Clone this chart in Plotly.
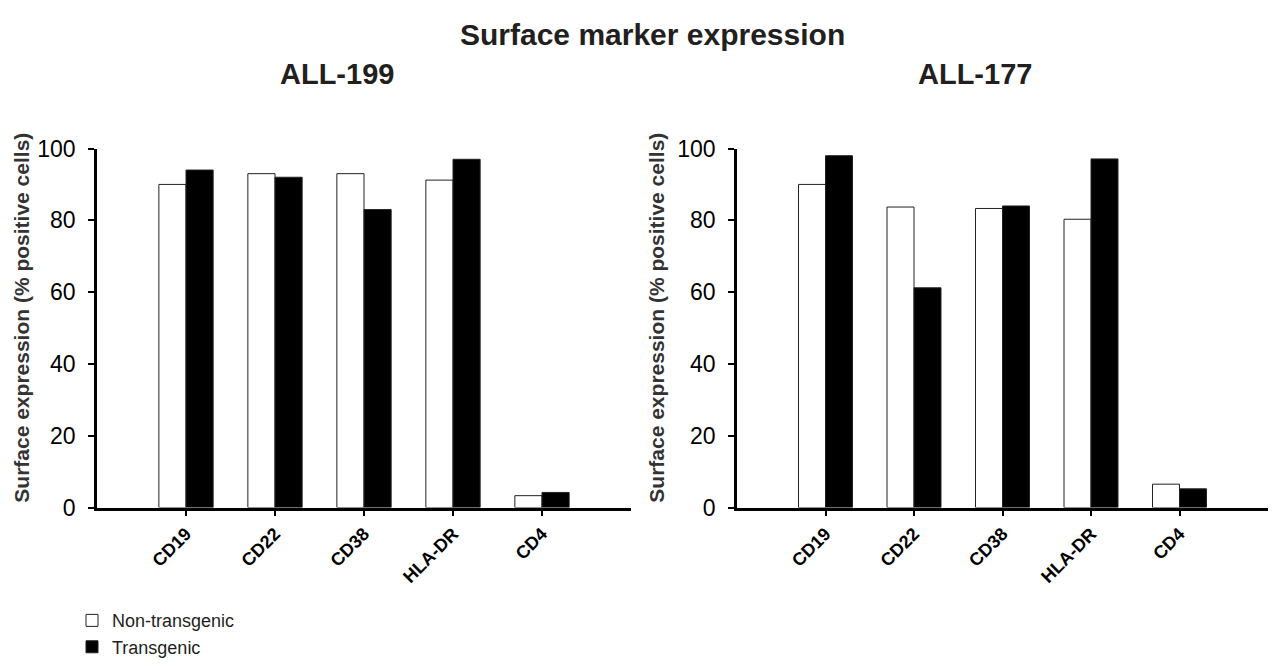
import plotly.graph_objects as go

W, H = 1274, 669

markers = ["CD19", "CD22", "CD38", "HLA-DR", "CD4"]
all199_non = [90, 93, 93, 91.2, 3.3]
all199_tg = [94, 92, 83, 97, 4.2]
all177_non = [90, 83.7, 83.3, 80.3, 6.5]
all177_tg = [98, 61.2, 84, 97.1, 5.2]
y_ticks = [0, 20, 40, 60, 80, 100]
series_names = ["Non-transgenic", "Transgenic"]

FONT = "Liberation Sans, Arial, Helvetica, sans-serif"
TXT = "#231f20"

def px(x):
    return x / W

def py(y):
    return 1 - y / H

fig = go.Figure()

for xa, ya, non, tg, show in [("x", "y", all199_non, all199_tg, True),
                              ("x2", "y2", all177_non, all177_tg, False)]:
    fig.add_trace(go.Bar(x=markers, y=non, name=series_names[0], xaxis=xa, yaxis=ya,
                         marker=dict(color="white", line=dict(color="#222", width=1)),
                         showlegend=show, legendgroup="non"))
    fig.add_trace(go.Bar(x=markers, y=tg, name=series_names[1], xaxis=xa, yaxis=ya,
                         marker=dict(color="black", line=dict(color="#222", width=1)),
                         showlegend=show, legendgroup="tg"))

xcommon = dict(type="category", range=[-1, 5], showline=True, linecolor="black", linewidth=2.5,
               ticks="outside", ticklen=6, tickwidth=1.5, tickcolor="black",
               tickangle=-45, tickfont=dict(family=FONT, size=18, color="black", weight="bold"),
               showgrid=False, zeroline=False)
ycommon = dict(range=[0, 100], tickvals=y_ticks, showline=True, linecolor="black", linewidth=2.5,
               ticks="outside", ticklen=6, tickwidth=1.5, tickcolor="black",
               ticklabelstandoff=8,
               tickfont=dict(family=FONT, size=23, color="black"),
               showgrid=False, zeroline=False)

ydom = [py(514.5), py(141)]
fig.update_layout(
    width=W, height=H,
    margin=dict(l=0, r=0, t=0, b=0),
    paper_bgcolor="white", plot_bgcolor="white",
    barmode="group", bargap=0.39, bargroupgap=0,
    xaxis=dict(domain=[px(97), px(631)], anchor="y", **xcommon),
    yaxis=dict(domain=ydom, anchor="x", **ycommon),
    xaxis2=dict(domain=[px(737), px(1268)], anchor="y2", **xcommon),
    yaxis2=dict(domain=ydom, anchor="x2", **ycommon),
    legend=dict(x=px(72), y=py(613), xanchor="left", yanchor="top",
                font=dict(family=FONT, size=18, color=TXT),
                bgcolor="rgba(0,0,0,0)", traceorder="normal", tracegroupgap=3),
    font=dict(family=FONT, color=TXT),
)

ann = [
    dict(text="<b>Surface marker expression</b>", x=px(652), y=py(22), size=30),
    dict(text="<b>ALL-199</b>", x=px(337), y=py(63), size=29),
    dict(text="<b>ALL-177</b>", x=px(975), y=py(63), size=29),
]
for a in ann:
    fig.add_annotation(text=a["text"], x=a["x"], y=a["y"], xref="paper", yref="paper",
                       xanchor="center", yanchor="middle", showarrow=False,
                       font=dict(family=FONT, size=a["size"], color=TXT))

for xpos in [22, 657]:
    fig.add_annotation(text="<b>Surface expression (% positive cells)</b>",
                       x=px(xpos), y=py(317), xref="paper", yref="paper",
                       xanchor="center", yanchor="middle", showarrow=False, textangle=-90,
                       font=dict(family=FONT, size=21, color="#333"))

fig.write_html("out.html", config={"displayModeBar": False},
               post_script="document.body.style.margin='0px';document.body.style.overflow='hidden';")
